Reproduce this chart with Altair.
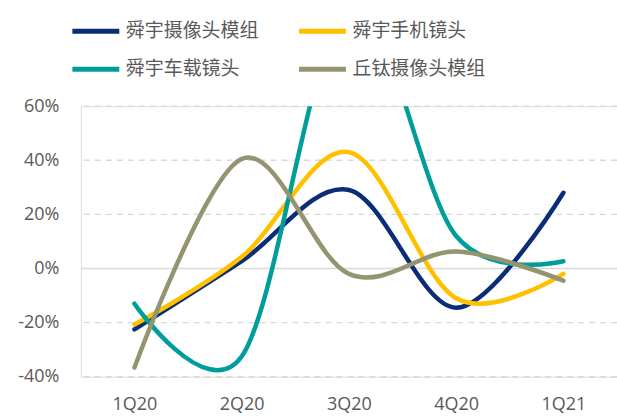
import altair as alt
import pandas as pd

quarters = ["1Q20", "2Q20", "3Q20", "4Q20", "1Q21"]
series_names = ["舜宇摄像头模组", "舜宇手机镜头", "舜宇车载镜头", "丘钛摄像头模组"]
s1 = [-22.5, 2.7, 29.0, -14.5, 28.0]
s2 = [-20.7, 4.3, 43.0, -11.0, -2.0]
s3 = [-13.0, -32.5, 98.0, 12.0, 2.7]
s4 = [-36.6, 40.5, -2.0, 6.3, -4.5]
colors = ["#0B2D78", "#FFC000", "#009E9A", "#949471"]

rows = []
for name, vals in zip(series_names, [s1, s2, s3, s4]):
    for q, v in zip(quarters, vals):
        rows.append({"q": q, "series": name, "v": v, "ord": series_names.index(name)})
df = pd.DataFrame(rows)

grid = alt.Chart(pd.DataFrame({"g": [-40, -20, 20, 40, 60]})).mark_rule(
    color="#D9D9D9", strokeWidth=1.4, strokeDash=[6, 5]
).encode(y=alt.Y("g:Q", scale=alt.Scale(domain=[-40, 60])))

zero = alt.Chart(pd.DataFrame({"g": [0]})).mark_rule(
    color="#D9D9D9", strokeWidth=1.4
).encode(y=alt.Y("g:Q", scale=alt.Scale(domain=[-40, 60])))

lines = alt.Chart(df).mark_line(
    interpolate="cardinal", strokeWidth=4.5, clip=True, strokeCap="round"
).encode(
    x=alt.X("q:N", sort=quarters, scale=alt.Scale(paddingInner=0, paddingOuter=0.5),
            axis=alt.Axis(title=None, labelAngle=0, domain=False, ticks=False,
                          labelFontSize=18, labelColor="#595959", labelFont="Open Sans",
                          labelPadding=19)),
    y=alt.Y("v:Q", scale=alt.Scale(domain=[-40, 60], nice=False),
            axis=alt.Axis(title=None, values=[-40, -20, 0, 20, 40, 60], grid=False,
                          domain=False, ticks=False, labelExpr="datum.value + '%'",
                          labelFontSize=18, labelColor="#595959", labelFont="Open Sans",
                          labelPadding=22)),
    color=alt.Color("series:N", scale=alt.Scale(domain=series_names, range=colors),
                    legend=alt.Legend(title=None, orient="none", legendX=-11, legendY=-101,
                                      direction="horizontal",
                                      columns=2, columnPadding=29, rowPadding=2,
                                      symbolType="stroke", symbolSize=2209,
                                      symbolStrokeWidth=5, labelFontSize=19,
                                      labelFont="Noto Sans CJK SC", labelColor="#595959",
                                      labelOffset=4, labelLimit=300)),
    order=alt.Order("ord:Q"),
)

chart = alt.layer(grid, zero, lines).properties(
    width=537, height=271,
    padding={"left": 81, "top": 106, "right": 0, "bottom": 42},
    autosize=alt.AutoSizeParams(type="none"),
).configure_view(stroke=None).configure(background="white")

chart.save("out.html", embed_options={"renderer": "svg", "actions": False})
